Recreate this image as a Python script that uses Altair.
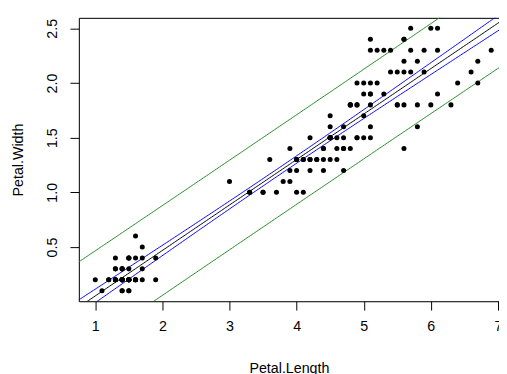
import altair as alt
import numpy as np
import pandas as pd

petal_length = [
    1.4,1.4,1.3,1.5,1.4,1.7,1.4,1.5,1.4,1.5,1.5,1.6,1.4,1.1,1.2,1.5,1.3,1.4,1.7,1.5,
    1.7,1.5,1.0,1.7,1.9,1.6,1.6,1.5,1.4,1.6,1.6,1.5,1.5,1.4,1.5,1.2,1.3,1.4,1.3,1.5,
    1.3,1.3,1.3,1.6,1.9,1.4,1.6,1.4,1.5,1.4,
    4.7,4.5,4.9,4.0,4.6,4.5,4.7,3.3,4.6,3.9,3.5,4.2,4.0,4.7,3.6,4.4,4.5,4.1,4.5,3.9,
    4.8,4.0,4.9,4.7,4.3,4.4,4.8,5.0,4.5,3.5,3.8,3.7,3.9,5.1,4.5,4.5,4.7,4.4,4.1,4.0,
    4.4,4.6,4.0,3.3,4.2,4.2,4.2,4.3,3.0,4.1,
    6.0,5.1,5.9,5.6,5.8,6.6,4.5,6.3,5.8,6.1,5.1,5.3,5.5,5.0,5.1,5.3,5.5,6.7,6.9,5.0,
    5.7,4.9,6.7,4.9,5.7,6.0,4.8,4.9,5.6,5.8,6.1,6.4,5.6,5.1,5.6,6.1,5.6,5.5,4.8,5.4,
    5.6,5.1,5.1,5.9,5.7,5.2,5.0,5.2,5.4,5.1,
]
petal_width = [
    0.2,0.2,0.2,0.2,0.2,0.4,0.3,0.2,0.2,0.1,0.2,0.2,0.1,0.1,0.2,0.4,0.4,0.3,0.3,0.3,
    0.2,0.4,0.2,0.5,0.2,0.2,0.4,0.2,0.2,0.2,0.2,0.4,0.1,0.2,0.2,0.2,0.2,0.1,0.2,0.2,
    0.3,0.3,0.2,0.6,0.4,0.3,0.2,0.2,0.2,0.2,
    1.4,1.5,1.5,1.3,1.5,1.3,1.6,1.0,1.3,1.4,1.0,1.5,1.0,1.4,1.3,1.4,1.5,1.0,1.5,1.1,
    1.8,1.3,1.5,1.2,1.3,1.4,1.4,1.7,1.5,1.0,1.1,1.0,1.2,1.6,1.5,1.6,1.5,1.3,1.3,1.3,
    1.2,1.4,1.2,1.0,1.3,1.2,1.3,1.3,1.1,1.3,
    2.5,1.9,2.1,1.8,2.2,2.1,1.7,1.8,1.8,2.5,2.0,1.9,2.1,2.0,2.4,2.3,1.8,2.2,2.3,1.5,
    2.3,2.0,2.0,1.8,2.1,1.8,1.8,1.8,2.1,1.6,1.9,2.0,2.2,1.5,1.4,2.3,2.4,1.8,1.8,2.1,
    2.4,2.3,1.9,2.3,2.5,2.3,1.9,2.0,2.3,1.8,
]
x_ticks = [1, 2, 3, 4, 5, 6, 7]
y_ticks = [0.5, 1.0, 1.5, 2.0, 2.5]

pts = pd.DataFrame({"PL": petal_length, "PW": petal_width})

# linear fit with 95% confidence and prediction bands
x = np.array(petal_length)
y = np.array(petal_width)
n = len(x)
X = np.column_stack([np.ones(n), x])
beta, *_ = np.linalg.lstsq(X, y, rcond=None)
resid = y - X @ beta
s = np.sqrt(resid @ resid / (n - 2))
xtx_inv = np.linalg.inv(X.T @ X)
tq = 1.9761
grid = np.linspace(0.3, 7.5, 300)
G = np.column_stack([np.ones_like(grid), grid])
fit = G @ beta
h = np.einsum("ij,jk,ik->i", G, xtx_inv, G)
se_conf = s * np.sqrt(h)
se_pred = s * np.sqrt(1 + h)

rows = []
for name, vals in [
    ("fit", fit),
    ("conf_lo", fit - tq * se_conf),
    ("conf_hi", fit + tq * se_conf),
    ("pred_lo", fit - tq * se_pred),
    ("pred_hi", fit + tq * se_pred),
]:
    for gx, gy in zip(grid, vals):
        rows.append({"PL": float(gx), "PW": float(gy), "band": name})
lines = pd.DataFrame(rows)

FONT = "Liberation Sans"
xscale = alt.Scale(domain=[0.755, 7.016], nice=False, zero=False)
yscale = alt.Scale(domain=[0.004, 2.596], nice=False, zero=False)

xaxis = alt.Axis(values=x_ticks, grid=False, title="Petal.Length", labelFontSize=14.5,
                 titleFontSize=14.5, labelFont=FONT, titleFont=FONT, tickSize=9,
                 labelPadding=10, titlePadding=29, titleFontWeight="normal",
                 domainColor="black", tickColor="black", labelColor="black",
                 titleColor="black", labelFlush=False, labelOverlap=False)
yaxis = alt.Axis(values=y_ticks, grid=False, title="Petal.Width", format=".1f",
                 labelFontSize=14.5, titleFontSize=14.5, labelFont=FONT, titleFont=FONT,
                 tickSize=9, labelAngle=270, labelAlign="center", labelBaseline="bottom",
                 labelPadding=11, titlePadding=19, titleFontWeight="normal",
                 domainColor="black", tickColor="black", labelColor="black",
                 titleColor="black", labelFlush=False, labelOverlap=False)

base_lines = alt.Chart(lines)

pred = base_lines.transform_filter(
    alt.FieldOneOfPredicate(field="band", oneOf=["pred_lo", "pred_hi"])
).mark_line(color="#228B22", strokeWidth=1, clip=True).encode(
    x=alt.X("PL:Q", scale=xscale, axis=xaxis),
    y=alt.Y("PW:Q", scale=yscale, axis=yaxis),
    detail="band:N",
)
conf = base_lines.transform_filter(
    alt.FieldOneOfPredicate(field="band", oneOf=["conf_lo", "conf_hi"])
).mark_line(color="#0000FF", strokeWidth=1, clip=True).encode(
    x=alt.X("PL:Q", scale=xscale, axis=None),
    y=alt.Y("PW:Q", scale=yscale, axis=yaxis),
    detail="band:N",
)
fitl = base_lines.transform_filter(
    alt.FieldEqualPredicate(field="band", equal="fit")
).mark_line(color="black", strokeWidth=1, clip=True).encode(
    x=alt.X("PL:Q", scale=xscale, axis=None),
    y=alt.Y("PW:Q", scale=yscale, axis=yaxis),
)
dots = alt.Chart(pts).mark_circle(color="black", opacity=1, size=26).encode(
    x=alt.X("PL:Q", scale=xscale, axis=None),
    y=alt.Y("PW:Q", scale=yscale, axis=yaxis),
)
# top frame line as a secondary axis with only its domain line
top = alt.Chart(pts).mark_point(opacity=0).encode(
    x=alt.X("PL:Q", scale=xscale,
            axis=alt.Axis(orient="top", domain=True, ticks=False, labels=False,
                          values=[], title=None, grid=False,
                          domainColor="black")),
    y=alt.Y("PW:Q", scale=yscale, axis=yaxis),
)

chart = alt.layer(pred, conf, fitl, dots, top).resolve_axis(x="independent").properties(
    width=427, height=288,
    autosize=alt.AutoSizeParams(type="none"),
    padding={"left": 72, "top": 7, "right": 0, "bottom": 75},
).configure_view(stroke=None).configure(background="white")

chart.save("out.html", embed_options={"renderer": "svg", "actions": False})
